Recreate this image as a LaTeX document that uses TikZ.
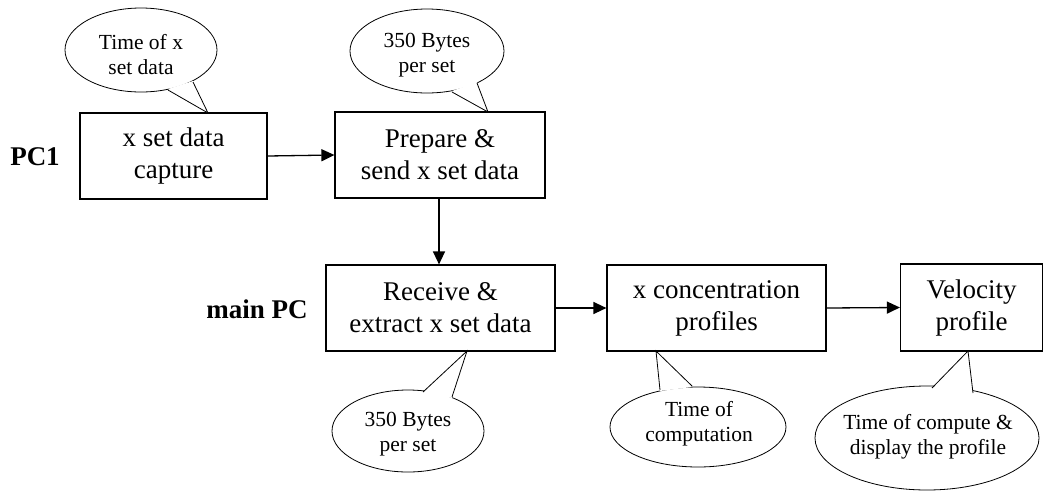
\documentclass[tikz,border=0pt]{standalone}
\usepackage{fontspec}
\setmainfont{Liberation Serif}
\usetikzlibrary{arrows.meta}
\begin{document}
\begin{tikzpicture}[x=1pt,y=-1pt,
  stepbox/.style={draw, line width=1.2pt, align=center, font=\fontsize{27}{32}\selectfont, inner sep=0pt},
  lbl/.style={font=\fontsize{27}{32}\selectfont\bfseries},
  ctext/.style={align=center, font=\fontsize{21.5}{25}\selectfont, inner sep=0pt},
  cline/.style={line width=0.8pt},
  flow/.style={line width=1.3pt, -{Triangle[length=13pt,width=12pt]}}]
\useasboundingbox (0,0) rectangle (1044,491);
% boxes
\node[stepbox, minimum width=187pt, minimum height=86pt] (b1) at (173.5,156) {x set data\\capture};
\node[stepbox, minimum width=210pt, minimum height=86pt] (b2) at (440,155) {Prepare \&\\send x set data};
\node[stepbox, minimum width=229pt, minimum height=86pt] (b3) at (440.5,308) {Receive \&\\extract x set data};
\node[stepbox, minimum width=219pt, minimum height=86pt] (b4) at (716.5,308) {x concentration\\profiles};
\node[stepbox, minimum width=142pt, minimum height=87pt] (b5) at (971.5,307.5) {Velocity\\profile};
% labels
\node[lbl] (pc1) at (35,157) {PC1};
\node[lbl] (mpc) at (257,309) {main PC};
% arrows
\draw[flow] (b1.east) -- (b2.west);
\draw[flow] (b2.south -| 439,0) -- (b3.north -| 439,0);
\draw[flow] (b3.east) -- (b4.west);
\draw[flow] (b4.east) -- (b5.west);
% callouts
\node[ctext] (c1) at (141,55) {Time of x\\set data};
\draw[cline] (c1.center) ++(0,-5) ellipse [x radius=76, y radius=42];
\fill[white] (168,89) -- (208,113) -- (193,81) -- cycle;
\draw[cline] (168,90) -- (208,113) -- (193,82);

\node[ctext] (c2) at (427,55) {350 Bytes\\per set};
\draw[cline] (c2.center) ++(0,-4) ellipse [x radius=77, y radius=42];
\fill[white] (452,91) -- (488,112) -- (477,82) -- cycle;
\draw[cline] (452,92) -- (488,112) -- (477,83);

\node[ctext] (c3) at (408,434) {350 Bytes\\per set};
\draw[cline] (c3.center) ++(0,-3) ellipse [x radius=76, y radius=41];
\fill[white] (423,393) -- (467,351) -- (452,398) -- cycle;
\draw[cline] (423,392) -- (467,351) -- (452,397);

\node[ctext] (c4) at (699,424) {Time of\\computation};
\draw[cline] (c4.center) ++(-1,3) ellipse [x radius=88, y radius=40];
\fill[white] (660,391) -- (656,351) -- (692,387) -- cycle;
\draw[cline] (660,390) -- (656,351) -- (692,386);

\node[ctext] (c5) at (928,437) {Time of compute \&\\display the profile};
\draw[cline] (c5.center) ++(-1,1) ellipse [x radius=112, y radius=52];
\fill[white] (932,389) -- (968,351) -- (973,394) -- cycle;
\draw[cline] (932,388) -- (968,351) -- (973,393);
\end{tikzpicture}
\end{document}
